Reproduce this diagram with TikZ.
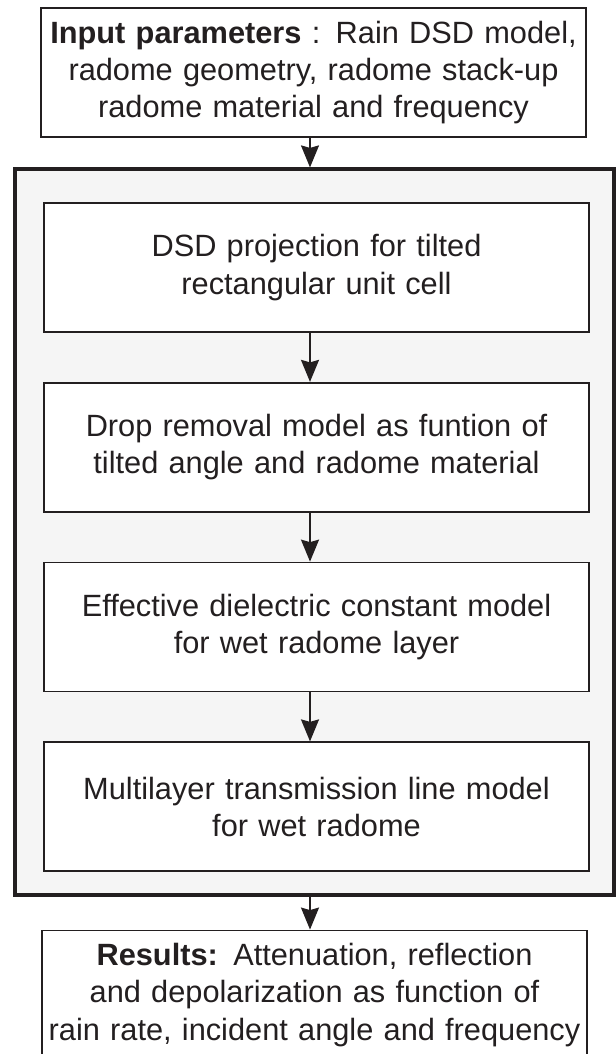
\documentclass[tikz,border=0pt]{standalone}
\usepackage{fontspec}
\setmainfont{Liberation Sans}
\usetikzlibrary{arrows.meta, positioning}
\definecolor{mydark}{RGB}{35,31,32}
\definecolor{framegray}{RGB}{245,245,245}
\tikzset{
  box/.style={rectangle, draw=mydark, fill=white, text=mydark,
    text width=10.8cm, align=center, minimum width=10.9cm,
    minimum height=2.58cm, inner sep=0pt, line width=1pt,
    font=\fontsize{17.5}{21.3}\selectfont},
  framebox/.style={rectangle, draw=mydark, fill=framegray,
    minimum width=11.98cm, minimum height=14.52cm, line width=1.8pt},
  arrow/.style={-{Stealth[length=0.44cm, width=0.36cm, inset=0.05cm]},
    line width=1pt, color=mydark}
}

\begin{document}
\begin{tikzpicture}[node distance=0.98cm]
  \useasboundingbox (0,0) rectangle (12.3,-21.08);
  \coordinate (ax) at (6.2,0);
  % input and outer frame
  \node[box] (input) at (6.27,-1.45) {\textbf{Input parameters} : Rain DSD model,\\
    radome geometry, radome stack-up\\ radome material and frequency};
  \node[framebox] (frame) at (6.29,-10.64) {};
  % steps inside the frame
  \node[box] (dsd) at (6.33,-5.35) {DSD projection for tilted\\ rectangular unit cell};
  \node[box, below=of dsd] (drop) {Drop removal model as funtion of\\ tilted angle and radome material};
  \node[box, below=of drop] (eff) {Effective dielectric constant model\\ for wet radome layer};
  \node[box, below=of eff] (mtl) {Multilayer transmission line model\\ for wet radome};
  % results
  \node[box, below=0.66cm of frame.south, anchor=north] (res) {\textbf{Results:} Attenuation, reflection\\
    and depolarization as function of\\ rain rate, incident angle and frequency};
  \draw[arrow] (ax |- input.south) -- (ax |- frame.north);
  \draw[arrow] (ax |- dsd.south) -- (ax |- drop.north);
  \draw[arrow] (ax |- drop.south) -- (ax |- eff.north);
  \draw[arrow] (ax |- eff.south) -- (ax |- mtl.north);
  \draw[arrow] (ax |- frame.south) -- (ax |- res.north);
\end{tikzpicture}
\end{document}
